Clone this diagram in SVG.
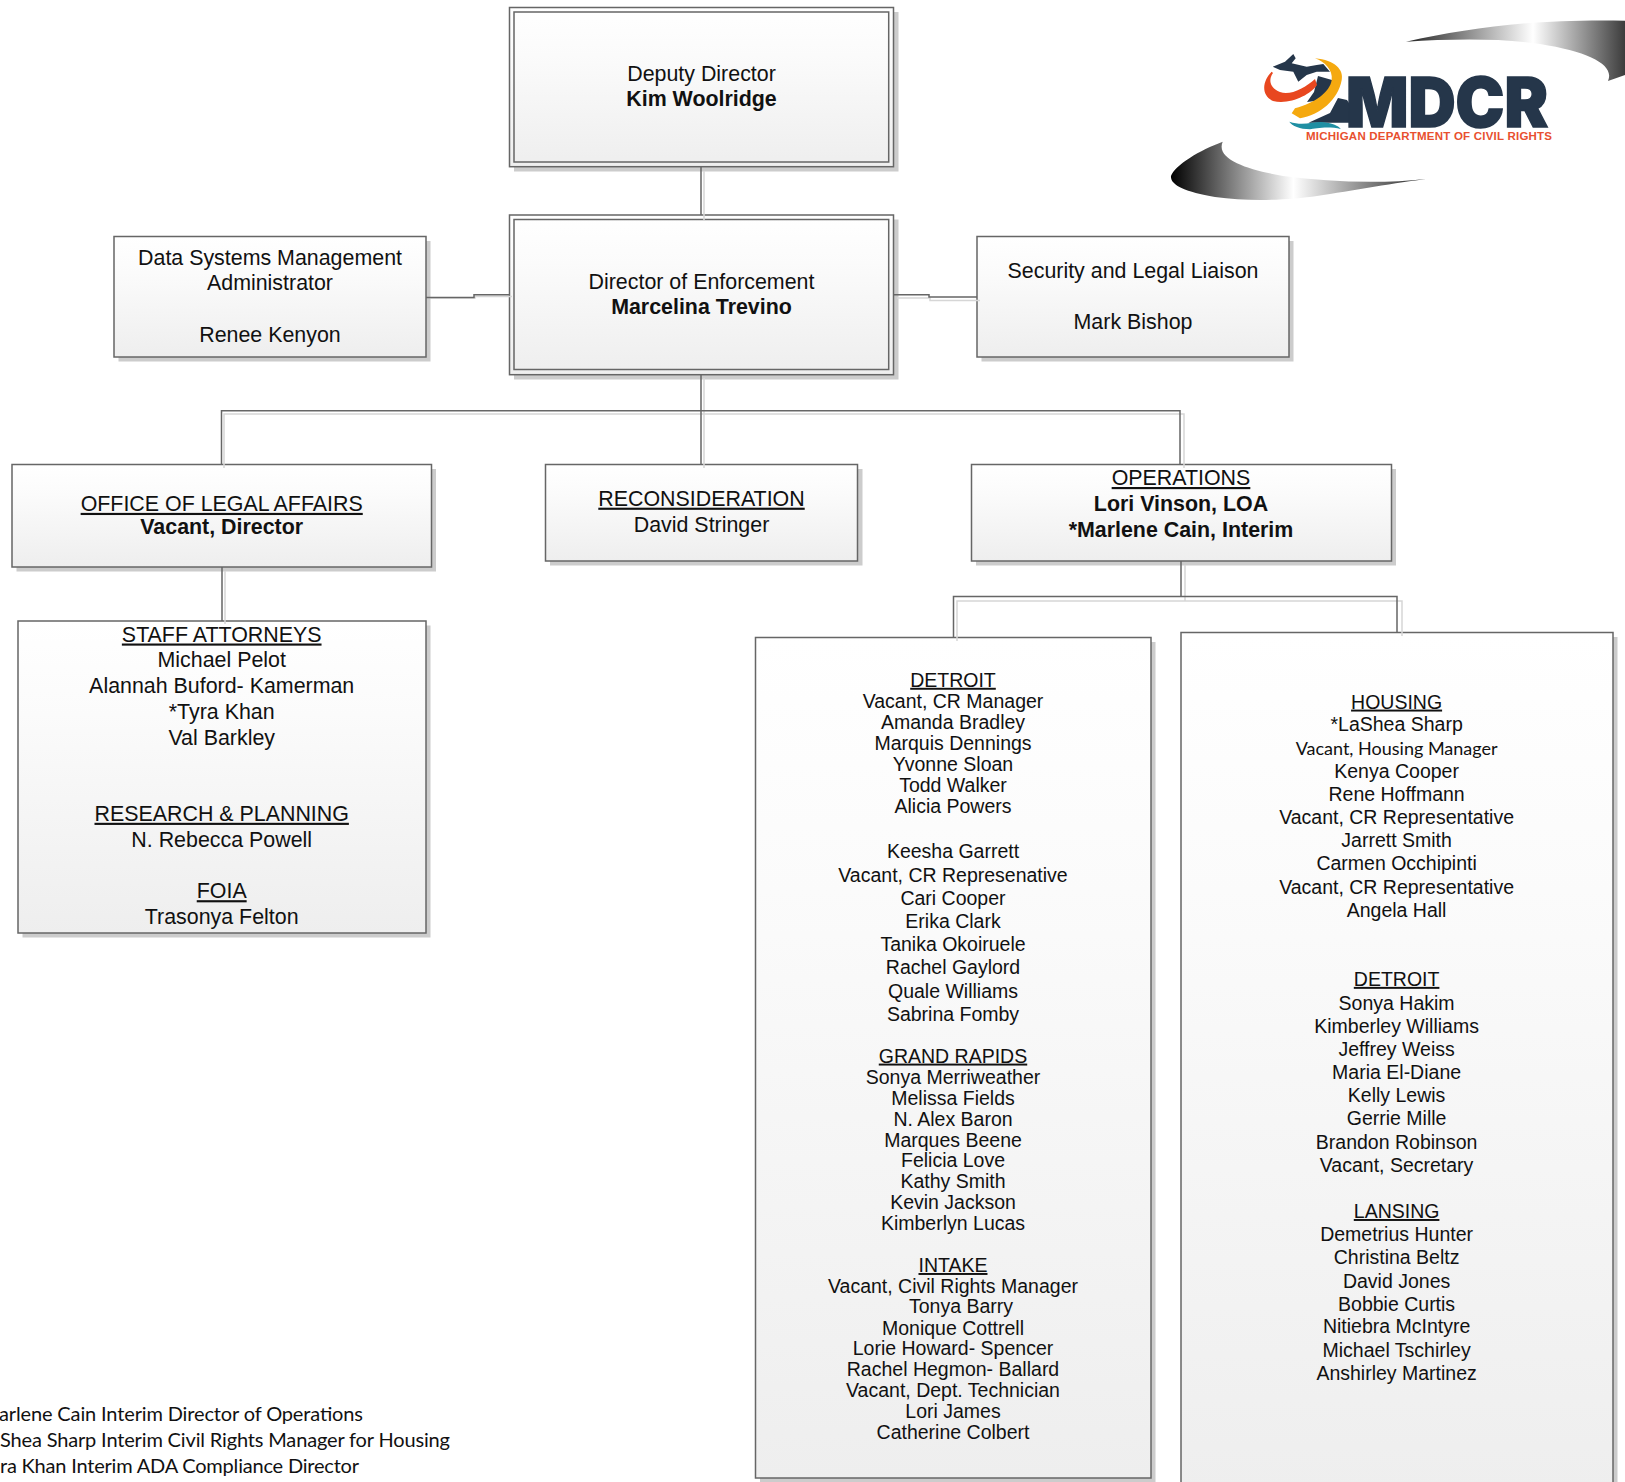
<svg xmlns="http://www.w3.org/2000/svg" width="1625" height="1482" viewBox="0 0 1625 1482">
<style>
text{font-family:"Liberation Sans",Arial,sans-serif;fill:#111;text-anchor:middle}
.t{font-size:21.4px}
.s{font-size:19.5px}
.b{font-weight:bold}
.u{text-decoration:underline}
.box{fill:url(#g);stroke:#666;stroke-width:1.5}
.inner{fill:none;stroke:#666;stroke-width:1.5}
.sh{fill:#ccc}
.cd{fill:none;stroke:#666;stroke-width:1.5}
.cl{fill:none;stroke:#d6d6d6;stroke-width:1.5}
.n{font-family:Lato,"Open Sans",sans-serif;text-anchor:start;font-size:20px}
</style>
<defs>
<linearGradient id="g" x1="0" y1="0" x2="0" y2="1"><stop offset="0" stop-color="#fff"/><stop offset=".3" stop-color="#fbfbfb"/><stop offset="1" stop-color="#eee"/></linearGradient>
<linearGradient id="sw1" gradientUnits="userSpaceOnUse" x1="1406" y1="0" x2="1625" y2="0"><stop offset="0" stop-color="#222"/><stop offset=".58" stop-color="#fff"/><stop offset="1" stop-color="#3c3c3c"/></linearGradient>
<linearGradient id="sw2" gradientUnits="userSpaceOnUse" x1="1171" y1="0" x2="1426" y2="0"><stop offset="0" stop-color="#000"/><stop offset=".48" stop-color="#fff"/><stop offset="1" stop-color="#222"/></linearGradient>
</defs>
<rect width="1625" height="1482" fill="#fff"/>
<g id="logo">
<path fill="url(#sw1)" d="M1406,41.7C1470,28 1530,19 1625,20.7V75L1608,81C1615,65 1590,52 1540,44C1500,38 1450,39 1406,41.7Z"/>
<path fill="url(#sw2)" d="M1222.7,141.7C1200,150 1175,165 1171,176C1170,185 1185,192 1215,197C1250,202 1290,200 1317,196C1350,191 1400,182 1426,179C1380,184 1330,182 1283,176C1250,170 1215,160 1222.7,141.7Z"/>
<path fill="#25364a" d="M1272.7,66.7L1285,61.7L1293.3,54L1295.7,58.3L1291.7,63.3L1306.7,66.7L1316.7,65L1323.3,64L1330,71.7L1316.7,71.7L1306.7,75L1298.3,81.7L1293.3,71.7L1280,70Z"/>
<path fill="#25364a" d="M1318,76L1332,80L1335,87L1323,100L1307,102L1314,92Z"/>
<path fill="#25364a" d="M1308.5,122.7L1330,113L1338,98L1347,100L1362,122.7Z"/>
<path fill="#e8471f" d="M1271.7,71.7C1263,80 1260,95 1273,101C1290,105 1310,95 1317,85L1315,79C1305,88 1290,96 1280,92C1270,88 1268,80 1273,73Z"/>
<path fill="#f5a90f" d="M1315,58.3C1335,60 1344,70 1341.7,80C1338,100 1320,115 1300,118.3L1291.7,113.3L1295,108.3C1315,103 1330,92 1331.7,80C1333,70 1325,62 1315,58.3Z"/>
<path fill="#1f8fa3" d="M1289.3,121.7C1305,127 1315,120 1327,122.7C1335,124 1340,127 1340.7,129C1330,126 1315,128 1310,129.3C1300,129 1292,126 1289.3,121.7Z"/>
<text x="1346" y="126.500" textLength="202" lengthAdjust="spacingAndGlyphs" style="font-family:Inter,'Liberation Sans',sans-serif;font-weight:900;font-size:69px;fill:#25364a;stroke:#25364a;stroke-width:1.5;text-anchor:start">MDCR</text>
<text x="1306" y="140" textLength="246" style="font-weight:bold;font-size:11.5px;fill:#e8502f;text-anchor:start">MICHIGAN DEPARTMENT OF CIVIL RIGHTS</text>
</g>
<g id="deputy-director">
<rect class="sh" x="514" y="12" width="384.500" height="159.500"/>
<rect class="box" x="509.500" y="7.500" width="384" height="159.200"/>
<rect class="inner" x="514" y="12" width="374.700" height="150"/>
<text class="t"><tspan x="701.500" y="80.600">Deputy Director</tspan><tspan class="b" x="701.500" y="105.800">Kim Woolridge</tspan></text>
</g>
<g id="director-enforcement">
<rect class="sh" x="514" y="219.500" width="384.500" height="160"/>
<rect class="box" x="509.500" y="215" width="384" height="159.700"/>
<rect class="inner" x="514" y="219.500" width="374.700" height="150"/>
<text class="t"><tspan x="701.500" y="289">Director of Enforcement</tspan><tspan class="b" x="701.500" y="314">Marcelina Trevino</tspan></text>
</g>
<g id="data-systems">
<rect class="sh" x="118.500" y="241" width="312" height="120.500"/>
<rect class="box" x="114" y="236.500" width="312" height="120.500"/>
<text class="t"><tspan x="270" y="265.200">Data Systems Management</tspan><tspan x="270" y="290">Administrator</tspan><tspan x="270" y="342">Renee Kenyon</tspan></text>
</g>
<g id="security-liaison">
<rect class="sh" x="981.500" y="241" width="312" height="120.500"/>
<rect class="box" x="977" y="236.500" width="312" height="120.500"/>
<text class="t"><tspan x="1133" y="277.800">Security and Legal Liaison</tspan><tspan x="1133" y="329.300">Mark Bishop</tspan></text>
</g>
<g id="legal-affairs">
<rect class="sh" x="16.500" y="469" width="419.500" height="102.500"/>
<rect class="box" x="12" y="464.500" width="419.500" height="102.500"/>
<text class="t"><tspan class="u" x="221.700" y="510.900">OFFICE OF LEGAL AFFAIRS</tspan><tspan class="b" x="221.700" y="533.800">Vacant, Director</tspan></text>
</g>
<g id="reconsideration">
<rect class="sh" x="550" y="469" width="312.500" height="96.500"/>
<rect class="box" x="545.500" y="464.500" width="312" height="96.500"/>
<text class="t"><tspan class="u" x="701.500" y="505.700">RECONSIDERATION</tspan><tspan x="701.500" y="531.700">David Stringer</tspan></text>
</g>
<g id="operations">
<rect class="sh" x="976" y="469" width="420" height="96.500"/>
<rect class="box" x="971.500" y="464.500" width="420" height="96.500"/>
<text class="t"><tspan class="u" x="1181" y="485">OPERATIONS</tspan><tspan class="b" x="1181" y="510.900">Lori Vinson, LOA</tspan><tspan class="b" x="1181" y="536.800">*Marlene Cain, Interim</tspan></text>
</g>
<g id="staff-attorneys">
<rect class="sh" x="22.500" y="625.500" width="408" height="312"/>
<rect class="box" x="18" y="621" width="408" height="312"/>
<text class="t"><tspan class="u" x="221.700" y="641.500">STAFF ATTORNEYS</tspan><tspan x="221.700" y="667.400">Michael Pelot</tspan><tspan x="221.700" y="693">Alannah Buford- Kamerman</tspan><tspan x="221.700" y="718.900">*Tyra Khan</tspan><tspan x="221.700" y="745">Val Barkley</tspan><tspan class="u" x="221.700" y="820.800">RESEARCH &amp; PLANNING</tspan><tspan x="221.700" y="846.700">N. Rebecca Powell</tspan><tspan class="u" x="221.700" y="898.200">FOIA</tspan><tspan x="221.700" y="924.100">Trasonya Felton</tspan></text>
</g>
<g id="detroit-column">
<rect class="sh" x="760" y="642" width="395.500" height="840"/>
<rect class="box" x="755.500" y="637.500" width="395.500" height="840.500"/>
<text class="s"><tspan class="u" x="953" y="686.800">DETROIT</tspan><tspan x="953" y="708.100">Vacant, CR Manager</tspan><tspan x="953" y="728.900">Amanda Bradley</tspan><tspan x="953" y="749.600">Marquis Dennings</tspan><tspan x="953" y="770.800">Yvonne Sloan</tspan><tspan x="953" y="792.100">Todd Walker</tspan><tspan x="953" y="813">Alicia Powers</tspan><tspan x="953" y="858">Keesha Garrett</tspan><tspan x="953" y="881.700">Vacant, CR Represenative</tspan><tspan x="953" y="905.100">Cari Cooper</tspan><tspan x="953" y="927.900">Erika Clark</tspan><tspan x="953" y="950.600">Tanika Okoiruele</tspan><tspan x="953" y="973.800">Rachel Gaylord</tspan><tspan x="953" y="997.800">Quale Williams</tspan><tspan x="953" y="1021.100">Sabrina Fomby</tspan><tspan class="u" x="953" y="1062.600">GRAND RAPIDS</tspan><tspan x="953" y="1084">Sonya Merriweather</tspan><tspan x="953" y="1104.800">Melissa Fields</tspan><tspan x="953" y="1125.800">N. Alex Baron</tspan><tspan x="953" y="1146.600">Marques Beene</tspan><tspan x="953" y="1167.300">Felicia Love</tspan><tspan x="953" y="1188">Kathy Smith</tspan><tspan x="953" y="1208.700">Kevin Jackson</tspan><tspan x="953" y="1230">Kimberlyn Lucas</tspan><tspan class="u" x="953" y="1272">INTAKE</tspan><tspan x="953" y="1292.700">Vacant, Civil Rights Manager</tspan><tspan x="961" y="1313.400">Tonya Barry</tspan><tspan x="953" y="1334.500">Monique Cottrell</tspan><tspan x="953" y="1354.900">Lorie Howard- Spencer</tspan><tspan x="953" y="1375.600">Rachel Hegmon- Ballard</tspan><tspan x="953" y="1396.800">Vacant, Dept. Technician</tspan><tspan x="953" y="1417.500">Lori James</tspan><tspan x="953" y="1439">Catherine Colbert</tspan></text>
</g>
<g id="housing-column">
<rect class="sh" x="1185.500" y="637" width="432" height="860"/>
<rect class="box" x="1181" y="632.500" width="432" height="860"/>
<text class="s"><tspan class="u" x="1396.600" y="708.600">HOUSING</tspan><tspan x="1396.600" y="730.900">*LaShea Sharp</tspan><tspan x="1396.600" y="754.800" style="font-family:Lato,sans-serif;font-size:18px">Vacant, Housing Manager</tspan><tspan x="1396.600" y="777.600">Kenya Cooper</tspan><tspan x="1396.600" y="801">Rene Hoffmann</tspan><tspan x="1396.600" y="824.200">Vacant, CR Representative</tspan><tspan x="1396.600" y="847">Jarrett Smith</tspan><tspan x="1396.600" y="869.800">Carmen Occhipinti</tspan><tspan x="1396.600" y="893.700">Vacant, CR Representative</tspan><tspan x="1396.600" y="916.500">Angela Hall</tspan><tspan class="u" x="1396.600" y="985.900">DETROIT</tspan><tspan x="1396.600" y="1009.700">Sonya Hakim</tspan><tspan x="1396.600" y="1032.500">Kimberley Williams</tspan><tspan x="1396.600" y="1056">Jeffrey Weiss</tspan><tspan x="1396.600" y="1079.200">Maria El-Diane</tspan><tspan x="1396.600" y="1102">Kelly Lewis</tspan><tspan x="1396.600" y="1124.800">Gerrie Mille</tspan><tspan x="1396.600" y="1148.600">Brandon Robinson</tspan><tspan x="1396.600" y="1172">Vacant, Secretary</tspan><tspan class="u" x="1396.600" y="1218">LANSING</tspan><tspan x="1396.600" y="1240.800">Demetrius Hunter</tspan><tspan x="1396.600" y="1263.600">Christina Beltz</tspan><tspan x="1396.600" y="1287.500">David Jones</tspan><tspan x="1396.600" y="1310.800">Bobbie Curtis</tspan><tspan x="1396.600" y="1333.100">Nitiebra McIntyre</tspan><tspan x="1396.600" y="1356.500">Michael Tschirley</tspan><tspan x="1396.600" y="1379.800">Anshirley Martinez</tspan></text>
</g>
<g id="footnotes">
<text class="n" x="-1" y="1420.700" textLength="364">arlene Cain Interim Director of Operations</text>
<text class="n" x="0" y="1446.700" textLength="450">Shea Sharp Interim Civil Rights Manager for Housing</text>
<text class="n" x="0" y="1472.500" textLength="359">ra Khan Interim ADA Compliance Director</text>
</g>
<g id="connectors">
<path class="cl" d="M704,171V220M704,378V468M224,468V414H1184V468M430,298H475V296.5H512M897,298H930V300.5H980M225,571V624M1185,565V601H957V641M957,601H1402V636"/>
<path class="cd" d="M701,167V215M701,375V464.500M221.500,464.500V410.700H1180V464.500M426,297.500H474V294.700H509.500M893.700,294.700H929V297H977M222,567V621M1181,561V596.500M953.500,637.500V596.500H1397V632.500"/>
</g>
</svg>
